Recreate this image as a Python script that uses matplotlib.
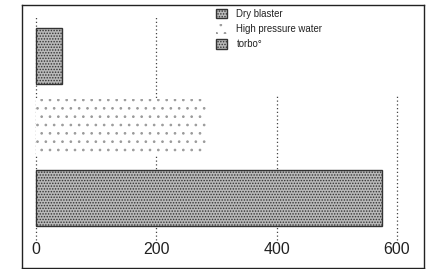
import matplotlib
matplotlib.use("Agg")
import matplotlib.pyplot as plt

plt.rcParams['font.family'] = ['Liberation Sans', 'DejaVu Sans']
plt.rcParams['hatch.linewidth'] = 0.7

# data (same unit as the axis)
methods = ['torbo°', 'High pressure water', 'Dry blaster']
values = [575, 283, 43]
ticks = [0, 200, 400, 600]

faces = ['#b9b9b9', 'white', '#b9b9b9']
hatches = ['......', '..', '......']
edges = ['#333333', '#9a9a9a', '#333333']
widths = [1.0, 0.0, 1.0]
grid_top = [2.58, 2.58, 1.45, 1.45]  # the legend hides the upper part on the right

fig = plt.figure(figsize=(4.28, 2.69), dpi=100)
ax = fig.add_axes([22 / 428, 1 - 268 / 269, 402 / 428, 263 / 269])

ypos = list(range(len(methods)))
for t, top in zip(ticks, grid_top):
    ax.vlines(t, -0.59, top, colors='#444444', linestyles=(0, (1, 2)),
              linewidth=0.9, zorder=1)

bars = []
for y, v, fc, h, ec, lw, lab in zip(ypos, values, faces, hatches, edges,
                                    widths, methods):
    b = ax.barh(y, v, height=0.79, color=fc, hatch=h, edgecolor=ec,
                linewidth=lw, label=lab, zorder=2)
    bars.append(b)

ax.set_xlim(-23.3, 645)
ax.set_ylim(-0.986, 2.72)
ax.set_xticks([])
ax.set_yticks([])
for sp in ax.spines.values():
    sp.set_linewidth(1.0)
    sp.set_color('#222222')

for t in ticks:
    ax.text(t, -0.73, str(t), ha='center', va='center', fontsize=11.5,
            color='#222222')

leg = ax.legend(handles=[bars[2], bars[1], bars[0]],
                labels=[methods[2], methods[1], methods[0]],
                loc='upper left', bbox_to_anchor=(213 / 428, 1 - 6 / 269),
                bbox_transform=fig.transFigure, fontsize=6.9, frameon=False,
                handlelength=1.15, handleheight=1.15, handletextpad=1.0,
                labelspacing=0.55, borderpad=0.3, borderaxespad=0)
leg.set_zorder(3)
for txt in leg.get_texts():
    txt.set_color('#222222')

fig.savefig('out.png', dpi=100)
